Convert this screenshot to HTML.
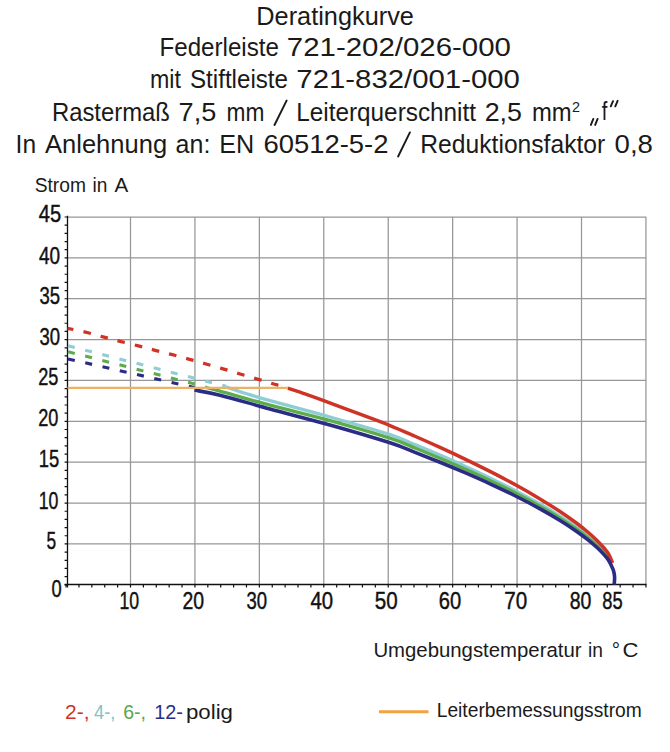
<!DOCTYPE html>
<html><head><meta charset="utf-8"><style>html,body{margin:0;padding:0;background:#fff;width:670px;height:752px;overflow:hidden}svg{display:block;font-family:"Liberation Sans",sans-serif}</style></head>
<body><svg width="670" height="752" viewBox="0 0 670 752">
<rect width="670" height="752" fill="#fff"/>
<path d="M130.50,217 V584.5 M194.93,217 V584.5 M259.36,217 V584.5 M323.79,217 V584.5 M388.22,217 V584.5 M452.65,217 V584.5 M517.08,217 V584.5 M581.51,217 V584.5 M645.94,217 V584.5 M67.5,543.93 H646.5 M67.5,503.07 H646.5 M67.5,462.20 H646.5 M67.5,421.34 H646.5 M67.5,380.47 H646.5 M67.5,339.61 H646.5 M67.5,298.74 H646.5 M67.5,257.88 H646.5 M67.5,217.01 H646.5" stroke="#979797" stroke-width="1.25" fill="none"/>
<path d="M67.5,215.8 V587.4 M64.6,584.5 H646.5" stroke="#111" stroke-width="1.3" fill="none"/>
<path d="M64.6,584.80 H67.5 M64.6,576.63 H67.5 M64.6,568.45 H67.5 M64.6,560.28 H67.5 M64.6,552.11 H67.5 M64.6,543.93 H67.5 M64.6,535.76 H67.5 M64.6,527.59 H67.5 M64.6,519.42 H67.5 M64.6,511.24 H67.5 M64.6,503.07 H67.5 M64.6,494.90 H67.5 M64.6,486.72 H67.5 M64.6,478.55 H67.5 M64.6,470.38 H67.5 M64.6,462.20 H67.5 M64.6,454.03 H67.5 M64.6,445.86 H67.5 M64.6,437.69 H67.5 M64.6,429.51 H67.5 M64.6,421.34 H67.5 M64.6,413.17 H67.5 M64.6,404.99 H67.5 M64.6,396.82 H67.5 M64.6,388.65 H67.5 M64.6,380.47 H67.5 M64.6,372.30 H67.5 M64.6,364.13 H67.5 M64.6,355.96 H67.5 M64.6,347.78 H67.5 M64.6,339.61 H67.5 M64.6,331.44 H67.5 M64.6,323.26 H67.5 M64.6,315.09 H67.5 M64.6,306.92 H67.5 M64.6,298.74 H67.5 M64.6,290.57 H67.5 M64.6,282.40 H67.5 M64.6,274.23 H67.5 M64.6,266.05 H67.5 M64.6,257.88 H67.5 M64.6,249.71 H67.5 M64.6,241.53 H67.5 M64.6,233.36 H67.5 M64.6,225.19 H67.5 M64.6,217.01 H67.5 M66.07,584.5 V587.4 M78.96,584.5 V587.4 M91.84,584.5 V587.4 M104.73,584.5 V587.4 M117.61,584.5 V587.4 M130.50,584.5 V587.4 M143.39,584.5 V587.4 M156.27,584.5 V587.4 M169.16,584.5 V587.4 M182.04,584.5 V587.4 M194.93,584.5 V587.4 M207.82,584.5 V587.4 M220.70,584.5 V587.4 M233.59,584.5 V587.4 M246.47,584.5 V587.4 M259.36,584.5 V587.4 M272.25,584.5 V587.4 M285.13,584.5 V587.4 M298.02,584.5 V587.4 M310.90,584.5 V587.4 M323.79,584.5 V587.4 M336.68,584.5 V587.4 M349.56,584.5 V587.4 M362.45,584.5 V587.4 M375.33,584.5 V587.4 M388.22,584.5 V587.4 M401.11,584.5 V587.4 M413.99,584.5 V587.4 M426.88,584.5 V587.4 M439.76,584.5 V587.4 M452.65,584.5 V587.4 M465.54,584.5 V587.4 M478.42,584.5 V587.4 M491.31,584.5 V587.4 M504.19,584.5 V587.4 M517.08,584.5 V587.4 M529.97,584.5 V587.4 M542.85,584.5 V587.4 M555.74,584.5 V587.4 M568.62,584.5 V587.4 M581.51,584.5 V587.4 M594.40,584.5 V587.4 M607.28,584.5 V587.4 M620.17,584.5 V587.4 M633.05,584.5 V587.4 M645.94,584.5 V587.4" stroke="#111" stroke-width="1.2" fill="none"/>
<g fill="none" stroke-linejoin="round">
<path d="M67.50,345.60 L226.00,386.30" stroke="#8fcdd6" stroke-width="3.1" stroke-dasharray="7 10.7" stroke-dashoffset="-0.5"/>
<path d="M67.50,351.60 L205.00,386.60" stroke="#5dac4c" stroke-width="3.1" stroke-dasharray="7 10.7" stroke-dashoffset="-0.5"/>
<path d="M67.50,358.80 L194.50,387.60" stroke="#2b2c86" stroke-width="3.1" stroke-dasharray="7 10.7" stroke-dashoffset="-0.5"/>
<path d="M67.50,328.30 C70.77,329.00 81.00,331.02 87.10,332.50 C93.20,333.98 98.62,335.73 104.10,337.20 C109.58,338.67 114.28,339.85 120.00,341.30 C125.72,342.75 132.55,344.40 138.40,345.90 C144.25,347.40 149.43,348.83 155.10,350.30 C160.77,351.77 166.67,353.20 172.40,354.70 C178.13,356.20 183.90,357.75 189.50,359.30 C195.10,360.85 200.42,362.42 206.00,364.00 C211.58,365.58 217.32,367.13 223.00,368.80 C228.68,370.47 234.40,372.30 240.10,374.00 C245.80,375.70 251.60,377.33 257.20,379.00 C262.80,380.67 268.58,382.53 273.70,384.00 C278.82,385.47 285.53,387.17 287.90,387.80" stroke="#cf3326" stroke-width="3.3" stroke-dasharray="7.6 10.1" stroke-dashoffset="1.5"/>
<path d="M226.00,386.90 C229.17,387.95 237.67,390.90 245.00,393.20 C252.33,395.50 255.83,396.73 270.00,400.70 C284.17,404.67 310.00,411.36 330.00,417.00 C350.00,422.64 375.83,429.93 390.00,434.53 C404.17,439.13 406.67,441.18 415.00,444.61 C423.33,448.05 431.67,451.54 440.00,455.13 C448.33,458.73 456.67,462.39 465.00,466.18 C473.33,469.97 481.67,473.84 490.00,477.87 C498.33,481.91 506.67,486.03 515.00,490.39 C523.33,494.76 532.50,499.76 540.00,504.05 C547.50,508.34 554.00,512.33 560.00,516.15 C566.00,519.98 571.33,523.65 576.00,526.99 C580.67,530.34 584.50,533.35 588.00,536.21 C591.50,539.06 594.33,541.61 597.00,544.14 C599.67,546.68 602.08,549.26 604.00,551.43 C605.92,553.61 607.30,555.30 608.50,557.19 C609.70,559.09 610.75,561.87 611.20,562.80" stroke="#8fcdd6" stroke-width="3.3"/>
<path d="M205.00,387.20 C207.50,387.87 209.17,388.20 220.00,391.20 C230.83,394.20 251.67,400.30 270.00,405.20 C288.33,410.10 310.00,415.11 330.00,420.60 C350.00,426.09 375.83,433.59 390.00,438.15 C404.17,442.71 406.67,444.63 415.00,447.98 C423.33,451.33 431.67,454.74 440.00,458.25 C448.33,461.76 456.67,465.34 465.00,469.04 C473.33,472.75 481.67,476.53 490.00,480.48 C498.33,484.43 506.67,488.46 515.00,492.74 C523.33,497.02 532.50,501.92 540.00,506.14 C547.50,510.35 554.00,514.27 560.00,518.03 C566.00,521.79 571.33,525.41 576.00,528.70 C580.67,532.00 584.50,534.97 588.00,537.79 C591.50,540.61 594.33,543.12 597.00,545.63 C599.67,548.14 602.08,550.69 604.00,552.84 C605.92,554.99 607.30,556.70 608.50,558.53 C609.70,560.35 610.75,562.92 611.20,563.80" stroke="#5dac4c" stroke-width="3.3"/>
<path d="M287.90,388.20 C290.88,389.20 299.83,392.13 305.80,394.20 C311.77,396.27 314.67,397.27 323.70,400.60 C332.73,403.93 348.95,410.04 360.00,414.20 C371.05,418.36 380.83,421.89 390.00,425.57 C399.17,429.25 406.67,432.63 415.00,436.27 C423.33,439.91 431.67,443.61 440.00,447.42 C448.33,451.22 456.67,455.09 465.00,459.09 C473.33,463.09 481.67,467.17 490.00,471.42 C498.33,475.67 506.67,480.01 515.00,484.58 C523.33,489.16 532.50,494.40 540.00,498.88 C547.50,503.37 554.00,507.52 560.00,511.50 C566.00,515.48 571.33,519.30 576.00,522.76 C580.67,526.22 584.50,529.33 588.00,532.28 C591.50,535.23 594.33,537.84 597.00,540.46 C599.67,543.07 602.08,545.71 604.00,547.95 C605.92,550.19 607.07,551.38 608.50,553.89 C609.93,556.39 611.92,561.48 612.60,563.00" stroke="#cf3326" stroke-width="3.5"/>
<path d="M194.50,390.10 C198.75,390.95 207.42,392.05 220.00,395.20 C232.58,398.35 251.67,404.03 270.00,409.00 C288.33,413.97 310.00,419.37 330.00,425.00 C350.00,430.63 375.83,438.25 390.00,442.80 C404.17,447.35 406.67,449.07 415.00,452.31 C423.33,455.56 431.67,458.86 440.00,462.26 C448.33,465.66 456.67,469.13 465.00,472.72 C473.33,476.32 481.67,479.99 490.00,483.83 C498.33,487.67 506.67,491.59 515.00,495.76 C523.33,499.92 532.50,504.70 540.00,508.82 C547.50,512.93 554.00,516.76 560.00,520.44 C566.00,524.12 571.33,527.67 576.00,530.90 C580.67,534.13 584.50,537.06 588.00,539.83 C591.50,542.60 594.33,545.08 597.00,547.55 C599.67,550.02 602.08,552.54 604.00,554.65 C605.92,556.77 607.23,558.32 608.50,560.24 C609.77,562.17 610.75,564.41 611.60,566.20 C612.45,567.99 613.10,569.20 613.60,571.00 C614.10,572.80 614.50,574.73 614.60,577.00 C614.70,579.27 614.27,583.33 614.20,584.60" stroke="#2b2c86" stroke-width="3.6"/>
</g>
<path d="M590.9,124.9 L593.3,118.9 M595.2,124.9 L597.6,118.9 M610.8,106.3 L613.0,101.2 M615.3,106.3 L617.6,100.8 M274.5,125.0 L286.6,100.6 M398.1,156.5 L409.9,132.4" stroke="#1a1a1a" stroke-width="1.9" stroke-linecap="round" fill="none"/>
<line x1="67.5" y1="387.9" x2="288" y2="387.9" stroke="#ebb266" stroke-width="2.3"/>
<line x1="379" y1="711.7" x2="428.5" y2="711.7" stroke="#f2a23f" stroke-width="3"/>
<g font-family="Liberation Sans, sans-serif"><text x="256.32" y="24.50" font-size="26.50" fill="#1a1a1a" textLength="157.62" lengthAdjust="spacingAndGlyphs" >Deratingkurve</text><text x="159.50" y="56.30" font-size="26.50" fill="#1a1a1a" textLength="119.44" lengthAdjust="spacingAndGlyphs" >Federleiste</text><text x="286.88" y="56.30" font-size="26.50" fill="#1a1a1a" textLength="224.06" lengthAdjust="spacingAndGlyphs" >721-202/026-000</text><text x="150.00" y="87.90" font-size="26.50" fill="#1a1a1a" textLength="30.96" lengthAdjust="spacingAndGlyphs" >mit</text><text x="190.00" y="87.90" font-size="26.50" fill="#1a1a1a" textLength="98.00" lengthAdjust="spacingAndGlyphs" >Stiftleiste</text><text x="296.32" y="87.90" font-size="26.50" fill="#1a1a1a" textLength="223.62" lengthAdjust="spacingAndGlyphs" >721-832/001-000</text><text x="51.94" y="120.70" font-size="26.50" fill="#1a1a1a" textLength="118.00" lengthAdjust="spacingAndGlyphs" >Rastermaß</text><text x="178.62" y="120.70" font-size="26.50" fill="#1a1a1a" textLength="37.76" lengthAdjust="spacingAndGlyphs" >7,5</text><text x="226.56" y="120.70" font-size="26.50" fill="#1a1a1a" textLength="37.88" lengthAdjust="spacingAndGlyphs" >mm</text><text x="296.26" y="120.70" font-size="26.50" fill="#1a1a1a" textLength="179.76" lengthAdjust="spacingAndGlyphs" >Leiterquerschnitt</text><text x="484.68" y="120.70" font-size="26.50" fill="#1a1a1a" textLength="37.32" lengthAdjust="spacingAndGlyphs" >2,5</text><text x="532.00" y="120.70" font-size="26.50" fill="#1a1a1a" textLength="39.72" lengthAdjust="spacingAndGlyphs" >mm</text><text x="572.00" y="112.40" font-size="14.00" fill="#1a1a1a" textLength="8.00" lengthAdjust="spacingAndGlyphs" >2</text><text x="601.84" y="120.40" font-size="26.50" fill="#1a1a1a" textLength="5.58" lengthAdjust="spacingAndGlyphs" >f</text><text x="15.58" y="152.70" font-size="26.50" fill="#1a1a1a" textLength="20.48" lengthAdjust="spacingAndGlyphs" >In</text><text x="45.04" y="152.70" font-size="26.50" fill="#1a1a1a" textLength="122.08" lengthAdjust="spacingAndGlyphs" >Anlehnung</text><text x="175.62" y="152.70" font-size="26.50" fill="#1a1a1a" textLength="34.74" lengthAdjust="spacingAndGlyphs" >an:</text><text x="219.20" y="152.70" font-size="26.50" fill="#1a1a1a" textLength="34.98" lengthAdjust="spacingAndGlyphs" >EN</text><text x="263.44" y="152.70" font-size="26.50" fill="#1a1a1a" textLength="125.06" lengthAdjust="spacingAndGlyphs" >60512-5-2</text><text x="420.32" y="152.70" font-size="26.50" fill="#1a1a1a" textLength="184.94" lengthAdjust="spacingAndGlyphs" >Reduktionsfaktor</text><text x="614.56" y="152.70" font-size="26.50" fill="#1a1a1a" textLength="38.38" lengthAdjust="spacingAndGlyphs" >0,8</text><text x="34.68" y="191.60" font-size="20.50" fill="#1a1a1a" textLength="51.26" lengthAdjust="spacingAndGlyphs" >Strom</text><text x="92.56" y="191.60" font-size="20.50" fill="#1a1a1a" textLength="14.88" lengthAdjust="spacingAndGlyphs" >in</text><text x="114.42" y="191.60" font-size="20.50" fill="#1a1a1a" textLength="13.72" lengthAdjust="spacingAndGlyphs" >A</text><text x="373.38" y="657.40" font-size="20.50" fill="#1a1a1a" textLength="208.14" lengthAdjust="spacingAndGlyphs" >Umgebungstemperatur</text><text x="588.00" y="657.40" font-size="20.50" fill="#1a1a1a" textLength="14.94" lengthAdjust="spacingAndGlyphs" >in</text><text x="611.68" y="657.40" font-size="20.50" fill="#1a1a1a" textLength="8.32" lengthAdjust="spacingAndGlyphs" >°</text><text x="622.56" y="657.40" font-size="20.50" fill="#1a1a1a" textLength="15.88" lengthAdjust="spacingAndGlyphs" >C</text><text x="65.04" y="718.80" font-size="21.00" fill="#cf3326" textLength="24.52" lengthAdjust="spacingAndGlyphs" >2-,</text><text x="94.00" y="718.80" font-size="21.00" fill="#7fc3c6" textLength="21.28" lengthAdjust="spacingAndGlyphs" >4-,</text><text x="123.28" y="718.80" font-size="21.00" fill="#5aa54c" textLength="22.74" lengthAdjust="spacingAndGlyphs" >6-,</text><text x="154.24" y="718.80" font-size="21.00" fill="#2b2c86" textLength="28.70" lengthAdjust="spacingAndGlyphs" >12-</text><text x="186.00" y="718.80" font-size="21.00" fill="#1a1a1a" textLength="47.00" lengthAdjust="spacingAndGlyphs" >polig</text><text x="436.74" y="717.10" font-size="21.00" fill="#1a1a1a" textLength="205.00" lengthAdjust="spacingAndGlyphs" >Leiterbemessungsstrom</text><text x="38.82" y="221.80" font-size="24.80" fill="#111" textLength="22.36" lengthAdjust="spacingAndGlyphs" stroke="#111" stroke-width="0.45">45</text><text x="39.08" y="263.60" font-size="24.80" fill="#111" textLength="21.10" lengthAdjust="spacingAndGlyphs" stroke="#111" stroke-width="0.45">40</text><text x="39.58" y="303.80" font-size="24.80" fill="#111" textLength="20.60" lengthAdjust="spacingAndGlyphs" stroke="#111" stroke-width="0.45">35</text><text x="39.58" y="344.50" font-size="24.80" fill="#111" textLength="20.60" lengthAdjust="spacingAndGlyphs" stroke="#111" stroke-width="0.45">30</text><text x="38.30" y="385.10" font-size="24.80" fill="#111" textLength="20.12" lengthAdjust="spacingAndGlyphs" stroke="#111" stroke-width="0.45">25</text><text x="38.30" y="426.40" font-size="24.80" fill="#111" textLength="20.12" lengthAdjust="spacingAndGlyphs" stroke="#111" stroke-width="0.45">20</text><text x="38.76" y="466.80" font-size="24.80" fill="#111" textLength="20.46" lengthAdjust="spacingAndGlyphs" stroke="#111" stroke-width="0.45">15</text><text x="38.76" y="509.00" font-size="24.80" fill="#111" textLength="19.66" lengthAdjust="spacingAndGlyphs" stroke="#111" stroke-width="0.45">10</text><text x="46.56" y="549.00" font-size="24.80" fill="#111" textLength="9.64" lengthAdjust="spacingAndGlyphs" stroke="#111" stroke-width="0.45">5</text><text x="51.56" y="597.40" font-size="24.80" fill="#111" textLength="10.16" lengthAdjust="spacingAndGlyphs" stroke="#111" stroke-width="0.45">0</text><text x="119.52" y="608.70" font-size="24.80" fill="#111" textLength="19.68" lengthAdjust="spacingAndGlyphs" stroke="#111" stroke-width="0.45">10</text><text x="182.56" y="608.70" font-size="24.80" fill="#111" textLength="21.64" lengthAdjust="spacingAndGlyphs" stroke="#111" stroke-width="0.45">20</text><text x="246.56" y="608.70" font-size="24.80" fill="#111" textLength="20.62" lengthAdjust="spacingAndGlyphs" stroke="#111" stroke-width="0.45">30</text><text x="310.58" y="608.70" font-size="24.80" fill="#111" textLength="22.60" lengthAdjust="spacingAndGlyphs" stroke="#111" stroke-width="0.45">40</text><text x="374.80" y="608.70" font-size="24.80" fill="#111" textLength="22.90" lengthAdjust="spacingAndGlyphs" stroke="#111" stroke-width="0.45">50</text><text x="438.78" y="608.70" font-size="24.80" fill="#111" textLength="22.38" lengthAdjust="spacingAndGlyphs" stroke="#111" stroke-width="0.45">60</text><text x="504.28" y="608.70" font-size="24.80" fill="#111" textLength="22.92" lengthAdjust="spacingAndGlyphs" stroke="#111" stroke-width="0.45">70</text><text x="569.80" y="608.70" font-size="24.80" fill="#111" textLength="21.64" lengthAdjust="spacingAndGlyphs" stroke="#111" stroke-width="0.45">80</text><text x="602.32" y="608.70" font-size="24.80" fill="#111" textLength="20.38" lengthAdjust="spacingAndGlyphs" stroke="#111" stroke-width="0.45">85</text></g>
</svg></body></html>
